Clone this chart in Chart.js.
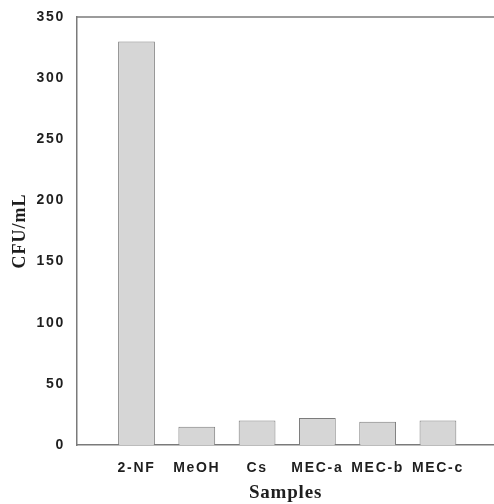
<!DOCTYPE html>
<html>
<head>
<meta charset="utf-8">
<script src="https://cdn.jsdelivr.net/npm/chart.js@4.4.0/dist/chart.umd.min.js"></script>
<style>
  body { margin: 0; background: #fff; }
  #wrap { width: 494px; height: 504px; }
</style>
</head>
<body>
<div id="wrap"><canvas id="chart" width="494" height="504"></canvas></div>
<script>
const samples = ['2-NF', 'MeOH', 'Cs', 'MEC-a', 'MEC-b', 'MEC-c'];
const cfuValues = [330, 15, 20, 22, 19, 20];
const yTicks = [0, 50, 100, 150, 200, 250, 300, 350];

const axisGray = '#7a7a7a';
const textDark = '#1e1e1e';

// letter spacing for ticks and titles (canvas ctx.letterSpacing)
const spacingPlugin = {
  id: 'spacing',
  afterLayout(chart) {
    Object.values(chart.scales).forEach((scale) => {
      if (scale._spacingWrapped) return;
      scale._spacingWrapped = true;
      const origLabels = scale.drawLabels;
      const origTitle = scale.drawTitle;
      scale.drawLabels = function (area) {
        const ctx = this.ctx;
        ctx.save();
        ctx.letterSpacing = '1.7px';
        origLabels.call(this, area);
        ctx.restore();
      };
      scale.drawTitle = function (area) {
        const ctx = this.ctx;
        ctx.save();
        ctx.letterSpacing = this.axis === 'y' ? '1px' : '0.8px';
        origTitle.call(this, area);
        ctx.restore();
      };
    });
  }
};

// top frame line
const topLine = {
  id: 'topLine',
  afterDraw(chart) {
    const { ctx, chartArea } = chart;
    ctx.save();
    ctx.strokeStyle = axisGray;
    ctx.lineWidth = 1.5;
    ctx.beginPath();
    ctx.moveTo(chartArea.left, chartArea.top);
    ctx.lineTo(chartArea.right, chartArea.top);
    ctx.stroke();
    ctx.restore();
  }
};

new Chart(document.getElementById('chart'), {
  type: 'bar',
  data: {
    datasets: [
      {
        label: 'CFU/mL',
        data: cfuValues.map((v, i) => ({ x: i + 1, y: v })),
        backgroundColor: '#d6d6d6',
        borderColor: '#7c7c7c',
        borderWidth: 1,
        barPercentage: 0.61,
        categoryPercentage: 1,
      },
    ],
  },
  options: {
    responsive: false,
    animation: false,
    layout: { padding: { top: 17, right: 0, left: 0, bottom: 0 } },
    plugins: { legend: { display: false }, tooltip: { enabled: false } },
    scales: {
      x: {
        type: 'linear',
        offset: false,
        min: 0.013,
        max: 6.93,
        grid: { display: false },
        border: { color: axisGray, width: 1.5 },
        afterFit(scale) { scale.height = 59; },
        afterBuildTicks(scale) {
          scale.ticks = samples.map((s, i) => ({ value: i + 1 }));
        },
        ticks: {
          padding: 7,
          color: textDark,
          font: { family: 'Liberation Sans, Arial, sans-serif', size: 14, weight: 'bold' },
          callback: (v) => samples[v - 1] || '',
          maxRotation: 0,
        },
        title: {
          display: true,
          text: 'Samples',
          color: textDark,
          padding: { top: 0, bottom: 0 },
          font: { family: 'Liberation Serif, Times New Roman, serif', size: 19, weight: 'bold' },
        },
      },
      y: {
        min: 0,
        max: 350,
        grid: { display: false },
        border: { color: axisGray, width: 1.5 },
        afterFit(scale) { scale.width = 77; },
        afterBuildTicks(scale) {
          scale.ticks = yTicks.map((v) => ({ value: v }));
        },
        ticks: {
          padding: 4,
          color: textDark,
          font: { family: 'Liberation Sans, Arial, sans-serif', size: 14, weight: 'bold' },
        },
        title: {
          display: true,
          text: 'CFU/mL',
          color: textDark,
          padding: { top: 10, bottom: 0 },
          font: { family: 'Liberation Serif, Times New Roman, serif', size: 18, weight: 'bold' },
        },
      },
    },
  },
  plugins: [spacingPlugin, topLine],
});
</script>
</body>
</html>
